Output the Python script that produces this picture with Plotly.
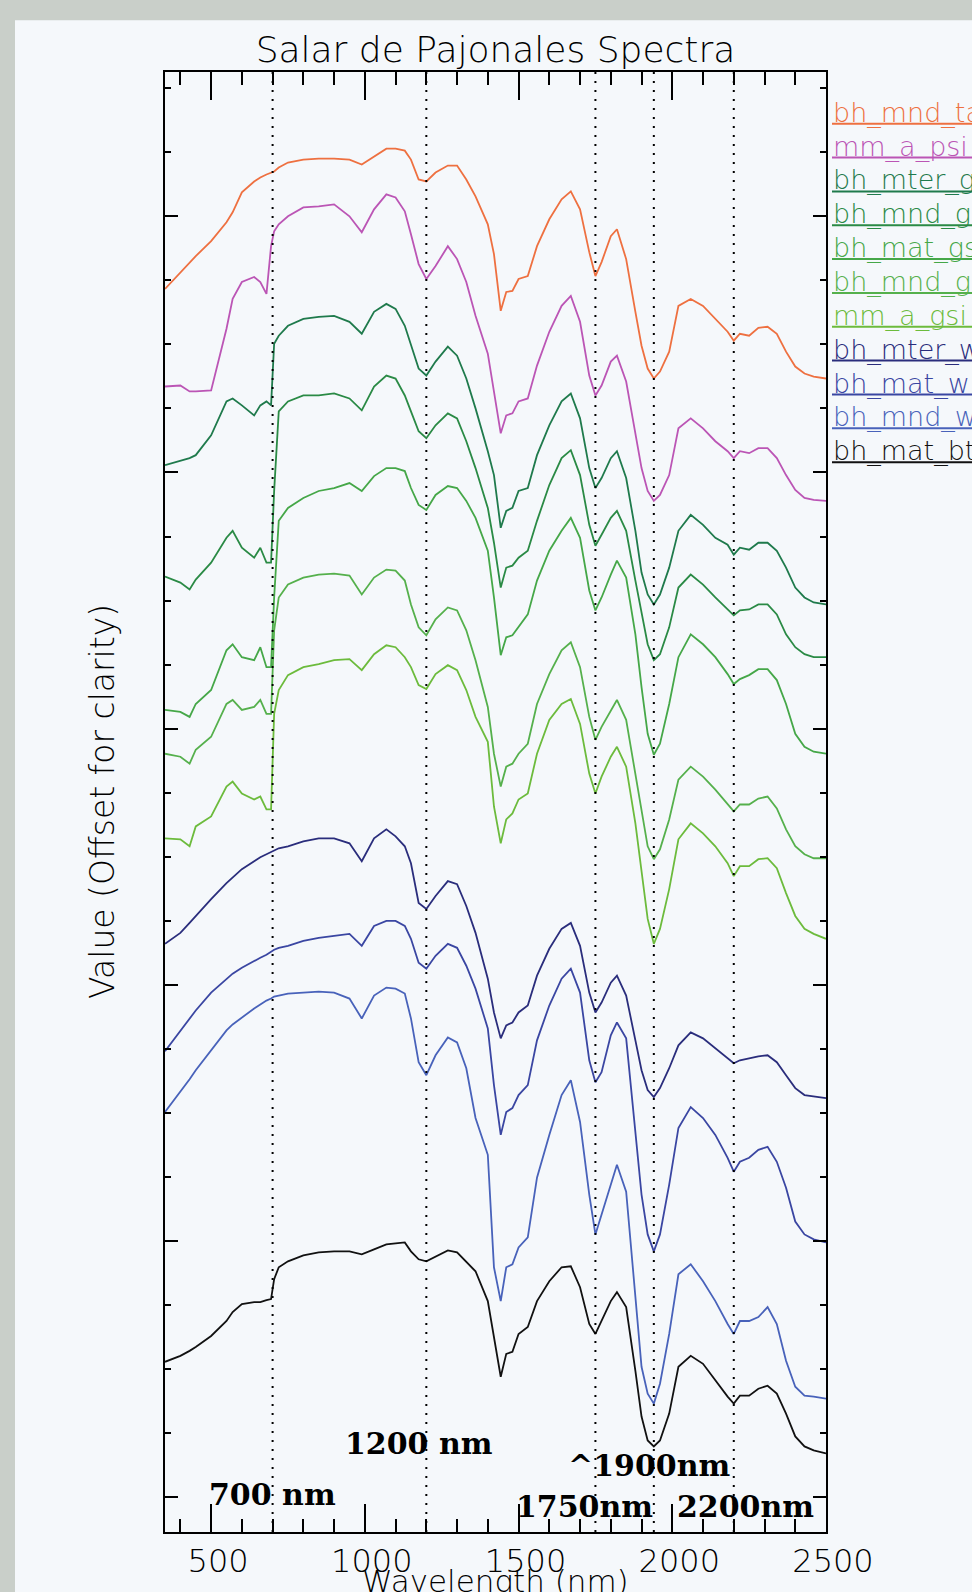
import plotly.graph_objects as go

# ---------------- data ----------------
WAVELENGTH = [350, 400, 430, 450, 500, 550, 570, 600, 640, 660, 680, 695, 705, 720, 750,
              800, 850, 900, 950, 990, 1030, 1070, 1100, 1130, 1150, 1175, 1200, 1230, 1270, 1300,
              1330, 1360, 1400, 1420, 1442, 1460, 1480, 1500, 1530, 1560, 1600, 1640, 1670, 1700, 1730,
              1750, 1770, 1800, 1820, 1850, 1880, 1900, 1920, 1940, 1960, 1990, 2020, 2060, 2100, 2140,
              2180, 2200, 2220, 2250, 2280, 2310, 2340, 2370, 2400, 2430, 2460, 2500]

SERIES_NAMES = ["bh_mnd_ta", "mm_a_psi", "bh_mter_g", "bh_mnd_g", "bh_mat_gs", "bh_mnd_g",
                "mm_a_gsi", "bh_mter_w", "bh_mat_w", "bh_mnd_w", "bh_mat_bt"]

bh_mnd_ta = [1.249, 1.266, 1.276, 1.282, 1.297, 1.316, 1.326, 1.346, 1.357, 1.361,
             1.364, 1.366, 1.367, 1.371, 1.376, 1.379, 1.380, 1.380, 1.379, 1.374,
             1.382, 1.390, 1.390, 1.388, 1.379, 1.359, 1.357, 1.366, 1.373, 1.373,
             1.359, 1.342, 1.314, 1.284, 1.227, 1.246, 1.247, 1.259, 1.262, 1.292,
             1.319, 1.339, 1.347, 1.329, 1.286, 1.262, 1.276, 1.302, 1.309, 1.279,
             1.226, 1.192, 1.169, 1.159, 1.166, 1.186, 1.232, 1.239, 1.232, 1.219,
             1.206, 1.197, 1.204, 1.202, 1.210, 1.211, 1.204, 1.186, 1.171, 1.164,
             1.161, 1.159]
mm_a_psi = [1.151, 1.152, 1.146, 1.146, 1.147, 1.209, 1.239, 1.256, 1.261, 1.256,
            1.244, 1.292, 1.307, 1.314, 1.322, 1.331, 1.332, 1.334, 1.322, 1.306,
            1.329, 1.344, 1.341, 1.327, 1.304, 1.274, 1.259, 1.272, 1.292, 1.279,
            1.256, 1.222, 1.184, 1.144, 1.104, 1.122, 1.124, 1.136, 1.139, 1.172,
            1.206, 1.232, 1.242, 1.216, 1.162, 1.142, 1.152, 1.176, 1.182, 1.156,
            1.102, 1.069, 1.046, 1.036, 1.042, 1.062, 1.109, 1.119, 1.109, 1.096,
            1.086, 1.079, 1.086, 1.084, 1.089, 1.089, 1.079, 1.062, 1.047, 1.039,
            1.037, 1.036]
bh_mter_g = [1.072, 1.076, 1.079, 1.082, 1.102, 1.136, 1.139, 1.132, 1.122, 1.132,
             1.136, 1.132, 1.194, 1.202, 1.212, 1.219, 1.221, 1.222, 1.216, 1.204,
             1.226, 1.234, 1.229, 1.212, 1.192, 1.169, 1.162, 1.176, 1.191, 1.182,
             1.159, 1.129, 1.086, 1.062, 1.009, 1.026, 1.029, 1.046, 1.049, 1.082,
             1.112, 1.136, 1.144, 1.119, 1.069, 1.049, 1.059, 1.079, 1.086, 1.059,
             1.006, 0.964, 0.942, 0.932, 0.942, 0.969, 1.006, 1.022, 1.012, 0.999,
             0.992, 0.982, 0.989, 0.987, 0.994, 0.994, 0.986, 0.969, 0.949, 0.939,
             0.934, 0.932]
bh_mnd_g1 = [0.960, 0.954, 0.947, 0.957, 0.974, 0.999, 1.006, 0.989, 0.979, 0.989,
             0.974, 0.974, 1.046, 1.126, 1.136, 1.142, 1.142, 1.144, 1.139, 1.127,
             1.151, 1.162, 1.159, 1.142, 1.126, 1.106, 1.099, 1.112, 1.124, 1.119,
             1.096, 1.069, 1.029, 0.994, 0.949, 0.969, 0.971, 0.979, 0.986, 1.016,
             1.052, 1.079, 1.087, 1.062, 1.012, 0.991, 1.002, 1.019, 1.026, 1.006,
             0.956, 0.922, 0.892, 0.876, 0.882, 0.909, 0.949, 0.962, 0.952, 0.939,
             0.927, 0.921, 0.926, 0.927, 0.932, 0.932, 0.922, 0.902, 0.889, 0.882,
             0.879, 0.879]
bh_mat_gs = [0.826, 0.824, 0.819, 0.832, 0.846, 0.886, 0.892, 0.879, 0.876, 0.889,
             0.869, 0.869, 0.939, 1.016, 1.029, 1.039, 1.046, 1.049, 1.054, 1.046,
             1.061, 1.069, 1.069, 1.066, 1.049, 1.032, 1.027, 1.042, 1.051, 1.049,
             1.036, 1.019, 0.986, 0.939, 0.881, 0.899, 0.901, 0.909, 0.922, 0.956,
             0.986, 1.006, 1.019, 0.999, 0.946, 0.926, 0.939, 0.962, 0.976, 0.959,
             0.902, 0.849, 0.802, 0.781, 0.792, 0.832, 0.879, 0.902, 0.892, 0.879,
             0.862, 0.852, 0.857, 0.861, 0.867, 0.867, 0.856, 0.832, 0.802, 0.789,
             0.784, 0.782]
bh_mnd_g2 = [0.782, 0.779, 0.772, 0.786, 0.799, 0.832, 0.836, 0.826, 0.829, 0.836,
             0.822, 0.822, 0.906, 0.939, 0.952, 0.959, 0.962, 0.963, 0.961, 0.942,
             0.959, 0.967, 0.966, 0.956, 0.932, 0.909, 0.901, 0.917, 0.929, 0.926,
             0.906, 0.876, 0.829, 0.782, 0.749, 0.769, 0.772, 0.782, 0.792, 0.832,
             0.862, 0.886, 0.894, 0.869, 0.819, 0.796, 0.809, 0.826, 0.836, 0.816,
             0.762, 0.722, 0.689, 0.676, 0.686, 0.716, 0.756, 0.769, 0.759, 0.746,
             0.732, 0.724, 0.731, 0.731, 0.737, 0.739, 0.727, 0.706, 0.689, 0.681,
             0.677, 0.677]
mm_a_gsi = [0.697, 0.696, 0.689, 0.709, 0.719, 0.749, 0.754, 0.742, 0.736, 0.739,
            0.726, 0.726, 0.822, 0.846, 0.861, 0.869, 0.872, 0.876, 0.877, 0.866,
            0.882, 0.891, 0.889, 0.879, 0.869, 0.851, 0.847, 0.862, 0.871, 0.866,
            0.846, 0.819, 0.794, 0.729, 0.692, 0.716, 0.722, 0.736, 0.742, 0.782,
            0.816, 0.832, 0.837, 0.812, 0.762, 0.742, 0.759, 0.779, 0.789, 0.769,
            0.712, 0.662, 0.616, 0.591, 0.606, 0.646, 0.696, 0.712, 0.702, 0.689,
            0.672, 0.659, 0.669, 0.669, 0.676, 0.677, 0.667, 0.642, 0.619, 0.606,
            0.601, 0.596]
bh_mter_w = [0.591, 0.602, 0.612, 0.619, 0.636, 0.652, 0.658, 0.666, 0.674, 0.678,
             0.681, 0.683, 0.685, 0.687, 0.689, 0.694, 0.697, 0.697, 0.692, 0.674,
             0.697, 0.706, 0.699, 0.689, 0.672, 0.632, 0.626, 0.639, 0.654, 0.651,
             0.629, 0.602, 0.556, 0.522, 0.496, 0.509, 0.512, 0.522, 0.529, 0.559,
             0.586, 0.606, 0.612, 0.589, 0.542, 0.522, 0.532, 0.552, 0.559, 0.539,
             0.494, 0.464, 0.444, 0.437, 0.446, 0.466, 0.489, 0.502, 0.496, 0.486,
             0.476, 0.471, 0.474, 0.476, 0.478, 0.479, 0.472, 0.459, 0.446, 0.439,
             0.438, 0.436]
bh_mat_w = [0.483, 0.504, 0.516, 0.524, 0.542, 0.556, 0.561, 0.567, 0.574, 0.577,
            0.580, 0.583, 0.585, 0.587, 0.589, 0.594, 0.597, 0.599, 0.601, 0.589,
            0.609, 0.614, 0.614, 0.609, 0.596, 0.572, 0.566, 0.579, 0.591, 0.587,
            0.569, 0.546, 0.506, 0.449, 0.399, 0.422, 0.426, 0.439, 0.449, 0.494,
            0.529, 0.556, 0.566, 0.542, 0.474, 0.452, 0.462, 0.499, 0.512, 0.496,
            0.399, 0.339, 0.299, 0.282, 0.299, 0.349, 0.406, 0.427, 0.416, 0.399,
            0.376, 0.362, 0.372, 0.376, 0.384, 0.387, 0.372, 0.346, 0.312, 0.299,
            0.294, 0.291]
bh_mnd_w = [0.422, 0.442, 0.455, 0.464, 0.484, 0.504, 0.510, 0.517, 0.526, 0.530,
            0.534, 0.536, 0.538, 0.539, 0.541, 0.542, 0.543, 0.542, 0.536, 0.516,
            0.539, 0.547, 0.546, 0.541, 0.516, 0.472, 0.459, 0.479, 0.497, 0.492,
            0.466, 0.416, 0.379, 0.266, 0.232, 0.266, 0.269, 0.286, 0.296, 0.356,
            0.399, 0.439, 0.454, 0.412, 0.339, 0.299, 0.319, 0.349, 0.369, 0.342,
            0.232, 0.166, 0.139, 0.129, 0.149, 0.199, 0.259, 0.269, 0.252, 0.232,
            0.209, 0.199, 0.212, 0.212, 0.216, 0.226, 0.209, 0.172, 0.146, 0.137,
            0.136, 0.134]
bh_mat_bt = [0.171, 0.177, 0.182, 0.186, 0.197, 0.212, 0.221, 0.229, 0.231, 0.231,
             0.233, 0.234, 0.254, 0.266, 0.272, 0.278, 0.281, 0.282, 0.282, 0.279,
             0.284, 0.289, 0.290, 0.291, 0.282, 0.274, 0.272, 0.277, 0.283, 0.281,
             0.272, 0.262, 0.232, 0.195, 0.156, 0.179, 0.181, 0.199, 0.206, 0.232,
             0.252, 0.266, 0.267, 0.246, 0.209, 0.199, 0.212, 0.232, 0.241, 0.226,
             0.162, 0.116, 0.092, 0.086, 0.092, 0.119, 0.166, 0.177, 0.169, 0.152,
             0.136, 0.129, 0.137, 0.137, 0.144, 0.147, 0.139, 0.119, 0.096, 0.086,
             0.082, 0.079]

SERIES_VALUES = [bh_mnd_ta, mm_a_psi, bh_mter_g, bh_mnd_g1, bh_mat_gs, bh_mnd_g2,
                 mm_a_gsi, bh_mter_w, bh_mat_w, bh_mnd_w, bh_mat_bt]

FEATURE_LINES_NM = [700, 1200, 1750, 1940, 2200]
FEATURE_LABELS = ["700 nm", "1200 nm", "^1900nm", "1750nm", "2200nm"]
X_TICK_VALUES = [500, 1000, 1500, 2000, 2500]

# ---------------- styling ----------------
COLORS = ["#ee7040", "#bb55b5", "#1f7a4c", "#2a8a45", "#45a748", "#55b04c",
          "#6cbb3c", "#2a2d7c", "#3a46a2", "#4862ba", "#111111"]

FIG_W, FIG_H = 972, 1592
M_L, M_R, M_T, M_B = 165, 146, 72, 53
PLOT_W = FIG_W - M_L - M_R
PLOT_H = FIG_H - M_T - M_B
Y_RANGE = [0, PLOT_H / 1000.0]


def pxx(px):
    return (px - M_L) / PLOT_W


def pxy(py):
    return (FIG_H - M_B - py) / PLOT_H


HERSHEY = "DejaVu Sans"
SERIF = "DejaVu Serif"

fig = go.Figure()
for name, vals, col in zip(SERIES_NAMES, SERIES_VALUES, COLORS):
    fig.add_trace(go.Scatter(x=WAVELENGTH, y=vals, mode="lines", name=name,
                             line=dict(color=col, width=1.8), showlegend=False))

shapes = [
    # light panel over the grey frame
    dict(type="rect", xref="paper", yref="paper", x0=pxx(15), x1=pxx(1010),
         y0=pxy(1650), y1=pxy(20), fillcolor="#f5f8fb", line=dict(width=0), layer="below"),
]
for nm in FEATURE_LINES_NM:
    shapes.append(dict(type="line", xref="x", yref="paper", x0=nm, x1=nm, y0=0, y1=1,
                       line=dict(color="black", width=2, dash="2px,7px")))

annotations = []
# legend (text with a coloured underline)
for i, (name, col) in enumerate(zip(SERIES_NAMES, COLORS)):
    cy = 113 + 34.0 * i
    annotations.append(dict(xref="paper", yref="paper", x=pxx(831), y=pxy(cy),
                            xanchor="left", yanchor="middle", text=name, showarrow=False,
                            font=dict(family=HERSHEY, size=27, color=col, weight=300)))
    shapes.append(dict(type="line", xref="paper", yref="paper", x0=pxx(832), x1=pxx(1000),
                       y0=pxy(cy + 11), y1=pxy(cy + 11), line=dict(color=col, width=2)))

# feature labels
label_pos = [(700, 0.038), (1175, 0.089), (1923, 0.067), (1713, 0.026), (2237, 0.026)]
for txt, (lx, ly) in zip(FEATURE_LABELS, label_pos):
    annotations.append(dict(x=lx, y=ly, xref="x", yref="y", text=txt, showarrow=False,
                            xanchor="center", yanchor="middle",
                            font=dict(family=SERIF, size=30, color="black", weight="bold")))

# axis titles
annotations.append(dict(xref="paper", yref="paper", x=pxx(102), y=0.5, text="Value (Offset for clarity)",
                        textangle=-90, showarrow=False, xanchor="center", yanchor="middle",
                        font=dict(family=HERSHEY, size=33, color="black", weight=300)))
annotations.append(dict(xref="paper", yref="paper", x=0.5, y=pxy(1568), text="Wavelength (nm)",
                        showarrow=False, xanchor="center", yanchor="top",
                        font=dict(family=HERSHEY, size=31, color="black", weight=300)))

fig.update_layout(
    width=FIG_W, height=FIG_H,
    margin=dict(l=M_L, r=M_R, t=M_T, b=M_B, pad=0),
    paper_bgcolor="#c9cfc9", plot_bgcolor="#f5f8fb",
    title=dict(text="Salar de Pajonales Spectra", x=0.5, xref="paper", xanchor="center",
               y=1 - 49 / FIG_H, yref="container", yanchor="middle",
               font=dict(family=HERSHEY, size=36, color="black", weight=300)),
    shapes=shapes, annotations=annotations, showlegend=False,
    xaxis=dict(range=[350, 2500], tickmode="array", tickvals=X_TICK_VALUES,
               ticktext=[str(v) for v in X_TICK_VALUES], ticklabelshift=7,
               ticks="inside", ticklen=28, tickwidth=1.5, tickcolor="black",
               minor=dict(ticks="inside", ticklen=13, tickwidth=1.5, tickcolor="black",
                          tick0=0, dtick=100),
               showline=True, linewidth=2, linecolor="black", mirror="ticks",
               showgrid=False, zeroline=False,
               tickfont=dict(family=HERSHEY, size=32, color="black", weight=300)),
    yaxis=dict(range=Y_RANGE, showticklabels=False, tickmode="linear", tick0=0.035, dtick=0.2574,
               ticks="inside", ticklen=13, tickwidth=1.5, tickcolor="black",
               minor=dict(ticks="inside", ticklen=6, tickwidth=1.5, tickcolor="black",
                          tick0=0.035, dtick=0.06435),
               showline=True, linewidth=2, linecolor="black", mirror="ticks",
               showgrid=False, zeroline=False),
)

fig.write_html("out.html", config={"displayModeBar": False},
               post_script="document.body.style.margin='0';document.body.style.overflow='hidden';")
